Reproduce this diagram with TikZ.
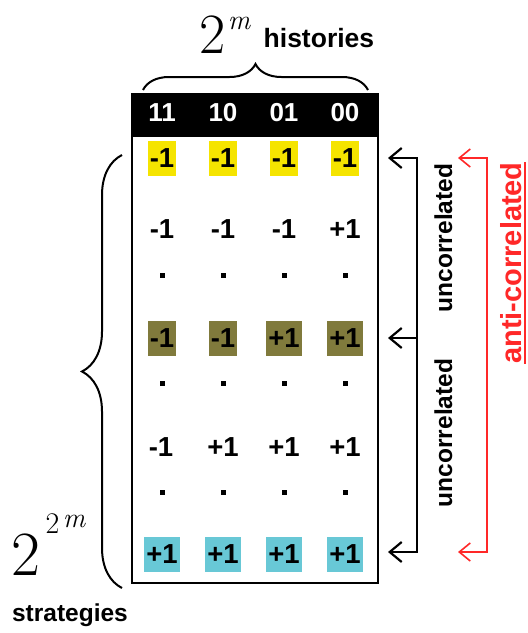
\documentclass[tikz,border=0pt]{standalone}
\usepackage{fontspec}
\setsansfont{Liberation Sans}
\usetikzlibrary{decorations.pathreplacing,arrows.meta}
\definecolor{hlyellow}{RGB}{245,228,0}
\definecolor{hlolive}{RGB}{128,122,60}
\definecolor{hlcyan}{RGB}{104,200,214}
\definecolor{antired}{RGB}{255,40,40}
\begin{document}
\begin{tikzpicture}[x=1pt,y=-1pt,
  num/.style={font=\sffamily\bfseries\fontsize{27.5}{27.5}\selectfont, inner xsep=2pt, inner ysep=0pt, minimum height=35pt, text height=19.5pt, text depth=0pt},
  hd/.style={font=\sffamily\bfseries\fontsize{26}{26}\selectfont, text=white, inner sep=0pt},
  dotsq/.style={fill=black, inner sep=0pt, minimum size=5pt},
  lbl/.style={font=\sffamily\bfseries\fontsize{24.5}{24.5}\selectfont, inner sep=0pt},
  serif/.style={inner sep=0pt, anchor=base},
  bracestyle/.style={line width=2pt, decorate},
  blk/.style={line width=2.2pt, black},
  redl/.style={line width=1.6pt, antired},
  btip/.style={{Straight Barb[length=12pt,width=20pt]}-{Straight Barb[length=12pt,width=20pt]}},
  rtip/.style={{Straight Barb[length=11pt,width=18pt]}-{Straight Barb[length=11pt,width=18pt]}}
]
\useasboundingbox (0,0) rectangle (528,633);

% title
\node[serif, font=\rmfamily\fontsize{57}{57}\selectfont] (two) at (212.5,53) {2};
\node[serif, font=\rmfamily\itshape\fontsize{28}{28}\selectfont] (em) at (239,29) {m};
\node[lbl, anchor=base west, font=\sffamily\bfseries\fontsize{26.5}{26.5}\selectfont] (hist) at (263.5,47) {histories};

% top brace
\coordinate (bra) at (143,90);
\coordinate (brb) at (368,90);
\draw[bracestyle, decoration={brace, amplitude=26pt}] (bra) -- (brb);

% table
\node[draw=black, line width=2pt, minimum width=246pt, minimum height=489pt, inner sep=0pt, anchor=north west] (tbl) at (131,93) {};
\node[fill=black, minimum width=246pt, minimum height=44pt, inner sep=0pt, anchor=north west] (hdr) at (131,93) {};

\foreach \xx/\t [count=\i] in {162/11,223/10,284/01,345/00}
  \node[hd] (h\i) at (\xx,113) {\t};

\foreach \xx/\v [count=\i] in {162/-1,223/-1,284/-1,345/-1}
  \node[num, fill=hlyellow] (ra\i) at (\xx,158) {\v};
\foreach \xx/\v [count=\i] in {162/-1,223/-1,284/-1,345/+1}
  \node[num] (rb\i) at (\xx,229) {\v};
\foreach \xx/\v [count=\i] in {162/-1,223/-1,284/+1,345/+1}
  \node[num, fill=hlolive] (rc\i) at (\xx,338) {\v};
\foreach \xx/\v [count=\i] in {161/-1,223/+1,284/+1,345/+1}
  \node[num] (rd\i) at (\xx,447) {\v};
\foreach \xx/\v [count=\i] in {162/+1,223/+1,284/+1,345/+1}
  \node[num, fill=hlcyan] (re\i) at (\xx,554) {\v};

\foreach \xx [count=\i] in {162,223,284,345} {
  \node[dotsq] (da\i) at (\xx,275) {};
  \node[dotsq] (db\i) at (\xx,383) {};
  \node[dotsq] (dc\i) at (\xx,492) {};
}

% left brace and 2^{2^m}
\coordinate (lba) at (122,588);
\coordinate (lbb) at (122,155);
\draw[bracestyle, decoration={brace, amplitude=40pt}] (lba) -- (lbb);
\node[serif, font=\rmfamily\fontsize{63}{63}\selectfont] (bigtwo) at (26,575) {2};
\node[serif, font=\rmfamily\fontsize{30}{30}\selectfont] (smtwo) at (52.5,533) {2};
\node[serif, font=\rmfamily\itshape\fontsize{28}{28}\selectfont] (smm) at (74,527) {m};
\node[lbl, anchor=base, font=\sffamily\bfseries\fontsize{24.5}{24.5}\selectfont] (strat) at (70,621) {strategies};

% black arrows
\coordinate (bt1) at (388,158);
\coordinate (bc1) at (417,158);
\coordinate (bt2) at (388,338);
\coordinate (bc2) at (417,338);
\coordinate (bt3) at (388,552);
\coordinate (bc3) at (417,552);
\draw[blk, btip] (bt1) -- (bc1) -- (bc3) -- (bt3);
\draw[blk, -{Straight Barb[length=12pt,width=20pt]}] (bc2) -- (bt2);
\node[lbl, rotate=90, anchor=base] (unc1) at (452,238) {uncorrelated};
\node[lbl, rotate=90, anchor=base] (unc2) at (452,433) {uncorrelated};

% red arrow
\coordinate (rt1) at (458,158);
\coordinate (rc1) at (487,158);
\coordinate (rt3) at (458,552);
\coordinate (rc3) at (487,552);
\draw[redl, rtip] (rt1) -- (rc1) -- (rc3) -- (rt3);
\node[lbl, rotate=90, anchor=base, text=antired, font=\sffamily\bfseries\fontsize{29}{29}\selectfont] (anti) at (521,263)
  {\vtop{\hbox{anti-correlated}\kern2.5pt\hrule height 2pt}};
\end{tikzpicture}
\end{document}
